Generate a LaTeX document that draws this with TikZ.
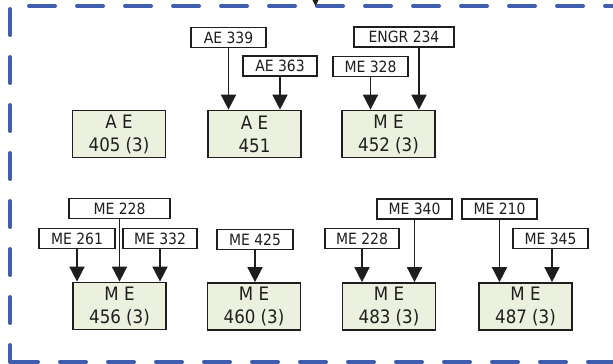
\documentclass[tikz,border=0pt]{standalone}
\usepackage{fontspec}
\setmainfont{DejaVu Sans Condensed}
\usetikzlibrary{arrows.meta}
\definecolor{frameblue}{RGB}{64,94,176}
\definecolor{boxgreen}{RGB}{235,241,222}
\definecolor{ink}{RGB}{30,30,30}
\begin{document}
\begin{tikzpicture}[x=1pt,y=-1pt,
  pre/.style={draw=ink,line width=1.4pt,fill=white,minimum height=20pt,inner sep=0pt,
    font=\fontsize{15.5}{18}\selectfont,text=ink},
  course/.style={draw=ink,line width=1.7pt,fill=boxgreen,minimum width=93pt,minimum height=47pt,
    inner sep=0pt,align=center,font=\fontsize{18.5}{23}\selectfont,text=ink},
  arr/.style={draw=ink,line width=1.6pt,-{Triangle[length=15pt,width=15pt]}},
  frame/.style={draw=frameblue,line width=4pt,line cap=round,dash pattern=on 26pt off 22pt}]
\useasboundingbox (0,0) rectangle (613,364);
\clip (0,0) rectangle (613,364);
% frame
\coordinate (fbl) at (10,362);
\coordinate (ftl) at (10,6);
\coordinate (ftr) at (630,6);
\coordinate (fbr) at (630,362);
\draw[frame,dash phase=9pt] (fbl) -- (ftl) -- (ftr);
\draw[frame,dash phase=-2pt] (fbl) -- (fbr);
% incoming arrow at top
\coordinate (inA) at (315.5,-14);
\coordinate (inB) at (315.5,6);
\draw[arr] (inA) -- (inB);
% top row courses
\node[course] (ae405) at (119,134) {A E\\405 (3)};
\node[course] (ae451) at (254.5,134) {A E\\451};
\node[course] (me452) at (388.5,134) {M E\\452 (3)};
% top row prerequisites
\node[pre,minimum width=75pt] (ae339) at (228.5,37.5) {AE 339};
\node[pre,minimum width=74pt] (ae363) at (280,66) {AE 363};
\node[pre,minimum width=100pt] (engr234) at (404,37) {ENGR 234};
\node[pre,minimum width=75pt] (me328) at (370.5,66.5) {ME 328};
% bottom row courses
\node[course] (me456) at (119.5,306) {M E\\456 (3)};
\node[course] (me460) at (254,306.5) {M E\\460 (3)};
\node[course] (me483) at (389,306.5) {M E\\483 (3)};
\node[course] (me487) at (525.5,306.5) {M E\\487 (3)};
% bottom row prerequisites
\node[pre,minimum width=101pt] (me228a) at (119.5,208.5) {ME 228};
\node[pre,minimum width=76pt] (me261) at (77,238.5) {ME 261};
\node[pre,minimum width=74pt] (me332) at (160,238.5) {ME 332};
\node[pre,minimum width=76pt] (me425) at (255,239.5) {ME 425};
\node[pre,minimum width=74pt] (me228b) at (362,238.5) {ME 228};
\node[pre,minimum width=75pt] (me340) at (414.5,209) {ME 340};
\node[pre,minimum width=75pt] (me210) at (499.5,209) {ME 210};
\node[pre,minimum width=75pt] (me345) at (550.5,238.5) {ME 345};
% arrows
\draw[arr] (ae339.south) -- (ae339.south |- ae451.north);
\draw[arr] (ae363.south) -- (ae363.south |- ae451.north);
\draw[arr] (me328.south) -- (me328.south |- me452.north);
\draw[arr] ([xshift=15pt]engr234.south) -- ([xshift=15pt]engr234.south |- me452.north);
\draw[arr] (me261.south) -- (me261.south |- me456.north);
\draw[arr] (me228a.south) -- (me228a.south |- me456.north);
\draw[arr] (me332.south) -- (me332.south |- me456.north);
\draw[arr] (me425.south) -- (me425.south |- me460.north);
\draw[arr] (me228b.south) -- (me228b.south |- me483.north);
\draw[arr] (me340.south) -- (me340.south |- me483.north);
\draw[arr] (me210.south) -- (me210.south |- me487.north);
\draw[arr] ([xshift=1.5pt]me345.south) -- ([xshift=1.5pt]me345.south |- me487.north);
\end{tikzpicture}
\end{document}
